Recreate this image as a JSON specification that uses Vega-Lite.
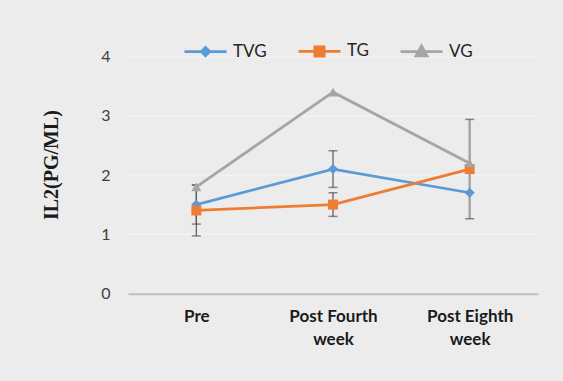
{
  "$schema": "https://vega.github.io/schema/vega-lite/v6.json",
  "width": 410,
  "height": 236.6,
  "autosize": {"type": "none"},
  "padding": {"left": 128, "top": 56.7, "right": 25, "bottom": 87.7},
  "background": "#ececec",
  "config": {"view": {"stroke": null}, "font": "Lato"},
  "datasets": {
    "means": [
      {"series": "TVG", "time": "Pre", "value": 1.5},
      {"series": "TVG", "time": "Post Fourth week", "value": 2.1},
      {"series": "TVG", "time": "Post Eighth week", "value": 1.7},
      {"series": "TG", "time": "Pre", "value": 1.4},
      {"series": "TG", "time": "Post Fourth week", "value": 1.5},
      {"series": "TG", "time": "Post Eighth week", "value": 2.1},
      {"series": "VG", "time": "Pre", "value": 1.8},
      {"series": "VG", "time": "Post Fourth week", "value": 3.4},
      {"series": "VG", "time": "Post Eighth week", "value": 2.2}
    ],
    "errors": [
      {"series": "TVG", "time": "Pre", "lo": 1.17, "hi": 1.83},
      {"series": "TG", "time": "Pre", "lo": 0.97, "hi": 1.83},
      {"series": "TVG", "time": "Post Fourth week", "lo": 1.79, "hi": 2.41},
      {"series": "TG", "time": "Post Fourth week", "lo": 1.3, "hi": 1.7},
      {"series": "VG", "time": "Post Eighth week", "lo": 1.26, "hi": 2.94}
    ]
  },
  "encoding": {
    "x": {
      "field": "time",
      "type": "nominal",
      "sort": ["Pre", "Post Fourth week", "Post Eighth week"],
      "scale": {"type": "point", "padding": 0.5},
      "axis": {
        "title": null,
        "domain": false,
        "ticks": false,
        "tickSize": 0,
        "grid": false,
        "labelAngle": 0,
        "labelFont": "Lato",
        "labelFontSize": 17,
        "labelFontWeight": "bold",
        "labelColor": "#1a1a1a",
        "labelPadding": 15,
        "labelLineHeight": 23,
        "labelExpr": "datum.value === 'Pre' ? 'Pre' : [replace(datum.value, ' week', ''), 'week']"
      }
    }
  },
  "layer": [
    {
      "data": {"name": "errors"},
      "mark": {"type": "rule"},
      "encoding": {
        "y": {"field": "lo", "type": "quantitative", "scale": {"domain": [0, 4], "nice": false}},
        "y2": {"field": "hi"},
        "color": {"condition": {"test": "datum.series === 'VG'", "value": "#a5a5a5"}, "value": "#595959"},
        "strokeWidth": {"condition": {"test": "datum.series === 'VG'", "value": 2.5}, "value": 1.2}
      }
    },
    {
      "data": {"name": "errors"},
      "mark": {"type": "tick", "orient": "horizontal", "size": 9, "thickness": 1.5, "color": "#595959"},
      "encoding": {
        "y": {"field": "lo", "type": "quantitative", "scale": {"domain": [0, 4], "nice": false}}
      }
    },
    {
      "data": {"name": "errors"},
      "mark": {"type": "tick", "orient": "horizontal", "size": 9, "thickness": 1.5, "color": "#595959"},
      "encoding": {
        "y": {"field": "hi", "type": "quantitative", "scale": {"domain": [0, 4], "nice": false}}
      }
    },
    {
      "data": {"name": "means"},
      "mark": {"type": "line", "strokeWidth": 2.75},
      "encoding": {
        "y": {
          "field": "value",
          "type": "quantitative",
          "scale": {"domain": [0, 4], "nice": false},
          "axis": {
            "values": [0, 1, 2, 3, 4],
            "format": "d",
            "grid": true,
            "gridColor": {"condition": {"test": "datum.value === 0", "value": "#bfbfbf"}, "value": "#f5f5f5"},
            "gridWidth": {"condition": {"test": "datum.value === 0", "value": 2}, "value": 1},
            "domain": false,
            "ticks": false,
            "tickSize": 0,
            "labelPadding": 18,
            "labelFont": "Lato",
            "labelFontSize": 16,
            "labelColor": "#404040",
            "title": "IL2(PG/ML)",
            "titleFont": "Liberation Serif",
            "titleFontSize": 20,
            "titleFontWeight": "bold",
            "titleColor": "#1a1a1a",
            "titleAngle": -90,
            "titleAlign": "center",
            "titleBaseline": "middle",
            "titleX": -76.5,
            "titleY": 107.8
          }
        },
        "color": {
          "field": "series",
          "type": "nominal",
          "sort": ["TVG", "TG", "VG"],
          "scale": {"domain": ["TVG", "TG", "VG"], "range": ["#5b9bd5", "#ed7d31", "#a5a5a5"]},
          "legend": {
            "title": null,
            "orient": "none",
            "legendX": 55,
            "legendY": -28,
            "direction": "horizontal",
            "symbolSize": 1764,
            "symbolStrokeWidth": 2.75,
            "labelFont": "Lato",
            "labelFontSize": 17,
            "labelColor": "#262626",
            "labelOffset": 5,
            "columnPadding": 26,
            "encode": {
              "symbols": {
                "update": {
                  "shape": {"signal": "datum.value === 'TVG' ? 'M-1,0H1M-0.2,0L0,-0.2L0.2,0L0,0.2Z' : datum.value === 'TG' ? 'M-1,0H1M-0.22,-0.22H0.22V0.22H-0.22Z' : 'M-1,0H1M0,-0.27L0.26,0.2H-0.26Z'"},
                  "fill": {"signal": "datum.value === 'TVG' ? '#5b9bd5' : datum.value === 'TG' ? '#ed7d31' : '#a5a5a5'"},
                  "stroke": {"signal": "datum.value === 'TVG' ? '#5b9bd5' : datum.value === 'TG' ? '#ed7d31' : '#a5a5a5'"},
                  "strokeWidth": {"value": 2.75},
                  "opacity": {"value": 1}
                }
              }
            }
          }
        }
      }
    },
    {
      "data": {"name": "means"},
      "mark": {"type": "point", "filled": true, "opacity": 1, "size": 100},
      "encoding": {
        "y": {"field": "value", "type": "quantitative", "scale": {"domain": [0, 4], "nice": false}},
        "color": {"field": "series", "type": "nominal", "legend": null},
        "shape": {
          "condition": [
            {"test": "datum.series === 'TVG'", "value": "diamond"},
            {"test": "datum.series === 'TG'", "value": "square"}
          ],
          "value": "triangle-up"
        }
      }
    }
  ]
}
